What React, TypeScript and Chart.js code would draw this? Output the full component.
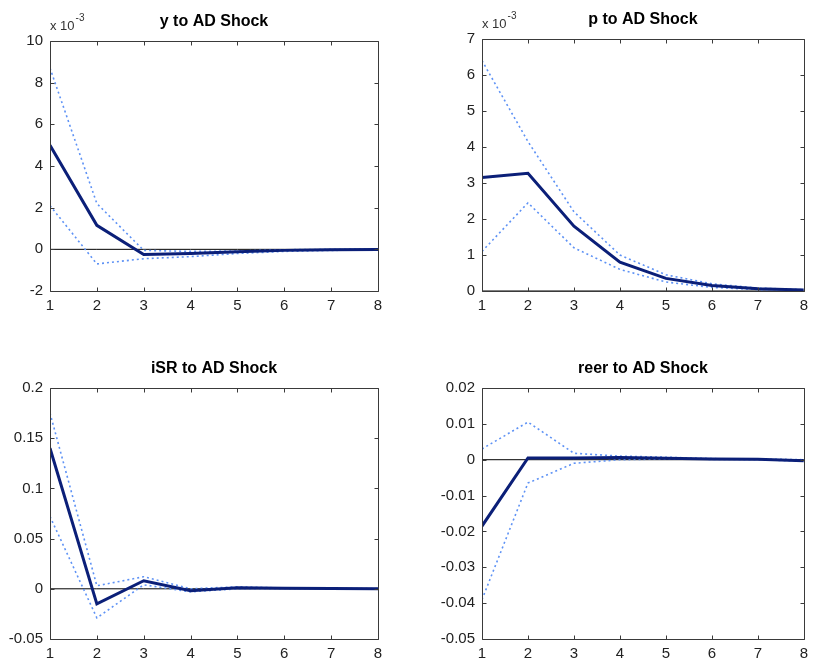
import React, { useEffect, useRef } from "react";
import { Chart, registerables } from "chart.js";

Chart.register(...registerables);

const steps = [1, 2, 3, 4, 5, 6, 7, 8];

// y to AD Shock (values in levels; axis shows x 10^-3)
const yMedian = [0.0050, 0.00115, -0.00025, -0.0002, -0.00012, -0.00005, -0.00002, -0.00001];
const yUpper = [0.0087, 0.0022, -0.00005, -0.0001, -0.00008, -0.00002, 0.0, 0.00002];
const yLower = [0.0021, -0.0007, -0.00045, -0.00035, -0.0002, -0.0001, -0.00005, -0.00003];

// p to AD Shock
const pMedian = [0.00315, 0.00327, 0.0018, 0.0008, 0.00035, 0.00015, 0.00006, 0.00003];
const pUpper = [0.0064, 0.00415, 0.0022, 0.001, 0.00045, 0.0002, 0.00008, 0.00004];
const pLower = [0.0011, 0.00245, 0.0012, 0.0006, 0.00025, 0.0001, 0.00004, 0.00002];

// iSR to AD Shock
const iMedian = [0.14, -0.015, 0.008, -0.002, 0.001, 0.0005, 0.0002, 0.0001];
const iUpper = [0.175, 0.003, 0.012, 0.0, 0.002, 0.0008, 0.0004, 0.0002];
const iLower = [0.072, -0.029, 0.004, -0.003, 0.0, 0.0002, 0.0001, 0.0];

// reer to AD Shock
const rMedian = [-0.0185, 0.0005, 0.0005, 0.0006, 0.0004, 0.0002, 0.0001, -0.0003];
const rUpper = [0.003, 0.0105, 0.0018, 0.001, 0.0007, 0.0003, 0.0002, 0.0];
const rLower = [-0.039, -0.0065, -0.001, 0.0, 0.0002, 0.0001, 0.0, -0.0004];

const zeros = [0, 0, 0, 0, 0, 0, 0, 0];

const FONT = "'Liberation Sans', Arial, Helvetica, sans-serif";

type PanelProps = {
  title: string;
  median: number[];
  upper: number[];
  lower: number[];
  yMin: number;
  yMax: number;
  yStep: number;
  exponent?: boolean;
  left: number;
  top: number;
  width: number;
  height: number;
  axisW: number;
  padTop: number;
  padRight: number;
  xAxisH: number;
};

const toXY = (vals: number[]) => vals.map((v, i) => ({ x: steps[i], y: v }));

function Panel(p: PanelProps) {
  const ref = useRef<HTMLCanvasElement | null>(null);
  useEffect(() => {
    if (!ref.current) return;
    const decor = {
      id: "decor",
      afterDraw(chart: any) {
        const { ctx, chartArea: ca } = chart;
        const xs = chart.scales.x;
        const ys = chart.scales.y;
        ctx.save();
        ctx.strokeStyle = "#3a3a3a";
        ctx.lineWidth = 1;
        const L = Math.round(ca.left) + 0.5;
        const R = Math.round(ca.right) + 0.5;
        const T = Math.round(ca.top) + 0.5;
        const B = Math.round(ca.bottom) + 0.5;
        ctx.beginPath();
        ctx.rect(L, T, R - L, B - T);
        const tl = 4;
        ys.ticks.forEach((t: any) => {
          const y = Math.round(ys.getPixelForValue(t.value)) + 0.5;
          ctx.moveTo(L, y);
          ctx.lineTo(L + tl, y);
          ctx.moveTo(R, y);
          ctx.lineTo(R - tl, y);
        });
        xs.ticks.forEach((t: any) => {
          const x = Math.round(xs.getPixelForValue(t.value)) + 0.5;
          ctx.moveTo(x, B);
          ctx.lineTo(x, B - tl);
          ctx.moveTo(x, T);
          ctx.lineTo(x, T + tl);
        });
        ctx.stroke();
        // title
        ctx.fillStyle = "#000";
        ctx.font = `bold 16px ${FONT}`;
        ctx.textAlign = "center";
        ctx.textBaseline = "middle";
        ctx.fillText(p.title, (ca.left + ca.right) / 2, ca.top - 19);
        if (p.exponent) {
          ctx.fillStyle = "#333";
          ctx.textAlign = "left";
          ctx.textBaseline = "alphabetic";
          ctx.font = `13px ${FONT}`;
          const base = "x 10";
          ctx.fillText(base, ca.left, ca.top - 11);
          const w = ctx.measureText(base).width;
          ctx.font = `10px ${FONT}`;
          ctx.fillText("-3", ca.left + w + 1, ca.top - 20);
        }
        ctx.restore();
      },
    };
    const fmt = (v: number) =>
      p.exponent ? String(Math.round(v * 1000)) : String(Number(v.toFixed(4)));
    const chart = new Chart(ref.current, {
      type: "line",
      data: {
        datasets: [
          {
            data: toXY(p.median),
            borderColor: "#0b1f78",
            borderWidth: 3,
            pointRadius: 0,
            order: 0,
          },
          {
            data: toXY(p.upper),
            borderColor: "#5e92f5",
            borderWidth: 1.6,
            borderDash: [2, 3],
            pointRadius: 0,
            order: 1,
          },
          {
            data: toXY(p.lower),
            borderColor: "#5e92f5",
            borderWidth: 1.6,
            borderDash: [2, 3],
            pointRadius: 0,
            order: 2,
          },
          {
            data: toXY(zeros),
            borderColor: "#000",
            borderWidth: 1,
            pointRadius: 0,
            order: 3,
          },
        ],
      },
      options: {
        animation: false,
        responsive: false,
        maintainAspectRatio: false,
        layout: { padding: { left: 0, top: p.padTop, right: p.padRight, bottom: 0 } },
        plugins: { legend: { display: false }, title: { display: false }, tooltip: { enabled: false } },
        scales: {
          x: {
            type: "linear",
            min: 1,
            max: 8,
            grid: { display: false, drawTicks: false },
            border: { display: false },
            ticks: {
              stepSize: 1,
              padding: 6,
              color: "#222",
              font: { family: FONT, size: 15 },
              autoSkip: false,
              maxRotation: 0,
            },
            afterFit: (s: any) => {
              s.height = p.xAxisH;
            },
          },
          y: {
            type: "linear",
            min: p.yMin,
            max: p.yMax,
            grid: { display: false, drawTicks: false },
            border: { display: false },
            ticks: {
              stepSize: p.yStep,
              padding: 7,
              color: "#222",
              font: { family: FONT, size: 15 },
              autoSkip: false,
              callback: (v: any) => fmt(Number(v)),
            },
            afterFit: (s: any) => {
              s.width = p.axisW;
            },
          },
        },
      },
      plugins: [decor],
    } as any);
    return () => chart.destroy();
  }, []);
  return (
    <div style={{ position: "absolute", left: p.left, top: p.top, width: p.width, height: p.height }}>
      <canvas ref={ref} width={p.width} height={p.height} style={{ width: p.width, height: p.height }} />
    </div>
  );
}

export default function App() {
  return (
    <div style={{ position: "absolute", left: 0, top: 0, width: 814, height: 660, background: "#fff" }}>
      <Panel title="y to AD Shock" median={yMedian} upper={yUpper} lower={yLower}
        yMin={-0.002} yMax={0.01} yStep={0.002} exponent
        left={0} top={0} width={407} height={330} axisW={50} padTop={41} padRight={29} xAxisH={39} />
      <Panel title="p to AD Shock" median={pMedian} upper={pUpper} lower={pLower}
        yMin={0} yMax={0.007} yStep={0.001} exponent
        left={407} top={0} width={407} height={330} axisW={75} padTop={39} padRight={5} xAxisH={39} />
      <Panel title="iSR to AD Shock" median={iMedian} upper={iUpper} lower={iLower}
        yMin={-0.05} yMax={0.2} yStep={0.05}
        left={0} top={330} width={407} height={330} axisW={50} padTop={58} padRight={29} xAxisH={21} />
      <Panel title="reer to AD Shock" median={rMedian} upper={rUpper} lower={rLower}
        yMin={-0.05} yMax={0.02} yStep={0.01}
        left={407} top={330} width={407} height={330} axisW={75} padTop={58} padRight={5} xAxisH={21} />
    </div>
  );
}
